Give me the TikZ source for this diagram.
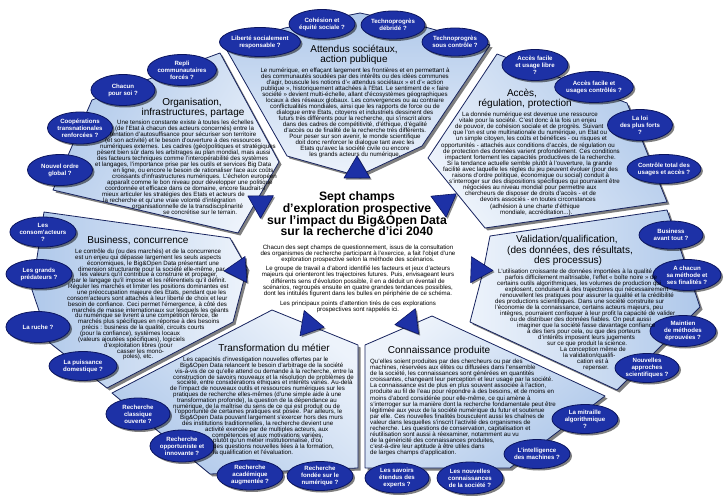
\documentclass[tikz,border=0pt]{standalone}
\usepackage{fontspec}
\setmainfont{Liberation Sans}
\usetikzlibrary{shapes.geometric,shadows}
\definecolor{eblue}{HTML}{1D31A6}
\definecolor{eline}{HTML}{0B1560}
\definecolor{plight}{HTML}{EDF3FB}
\definecolor{pdark}{HTML}{AFC8EA}
\definecolor{pline}{HTML}{18245F}
\newcounter{lnc}
\newcommand\plineL[3]{\stepcounter{lnc}\node[para,anchor=base west] (ln\arabic{lnc}) at (#1,{#2+1.6}) {#3};}
\newcommand\plineC[3]{\stepcounter{lnc}\node[para,anchor=base] (ln\arabic{lnc}) at (#1,{#2+1.6}) {#3};}
\newcommand\bubble[6]{\node[bub,minimum width=#4pt,minimum height=#5pt] (#1) at (#2,#3) {#6};}
\newcommand\arrowtri[4]{\path[tri,shift={(#2,#3)},rotate=#4] (14,0) -- (-8,13) -- (-8,-13) -- cycle; \coordinate (#1) at (#2,#3);}
\begin{document}
\begin{tikzpicture}[x=1pt,y=-1pt,
  para/.style={font=\fontsize{6.15}{7}\selectfont, inner sep=0pt, text=black},
  ttl/.style={font=\fontsize{10}{11}\selectfont, inner sep=0pt, text=black, anchor=base},
  ctl/.style={font=\bfseries\fontsize{12.2}{13}\selectfont, inner sep=0pt, text=black, anchor=base},
  bub/.style={ellipse, fill=eblue, draw=eline, line width=0.8pt, text=white,
    font=\bfseries\fontsize{6.1}{7}\selectfont, align=center, inner sep=0pt,
    drop shadow={opacity=0.5, fill=black, shadow xshift=2pt, shadow yshift=-2pt}},
  panel/.style={draw=pline, line width=0.8pt, line join=round, top color=pdark, bottom color=plight,
    shading angle=#1, drop shadow={opacity=0.5, fill=black, shadow xshift=2.5pt, shadow yshift=-2.5pt}},
  tri/.style={fill=eblue, draw=eline, line width=0.6pt, line join=round,
    drop shadow={opacity=0.45, fill=black, shadow xshift=1.6pt, shadow yshift=-1.6pt}}]
\useasboundingbox (0,0) rectangle (725,502);
\fill[white] (0,0) rectangle (725,502);

% ---------- panels ----------
\path[panel=0] (225,47) -- (285,28) -- (360,13) -- (425,27) -- (490,45) -- (422,146) -- (358,176) -- (287,156) -- cycle;
\path[panel=60] (220,53) -- (92,100) -- (53,190) -- (238,233) -- (279,162) -- cycle;
\path[panel=-54] (497,54) -- (627,103) -- (667,202) -- (485,228) -- (428,158) -- cycle;
\path[panel=-90] (490,236) -- (667,210) -- (700,307) -- (617,390) -- (470,322) -- (483,272) -- cycle;
\path[panel=-142] (365,345) -- (432,316) -- (605,396) -- (510,468) -- (365,468) -- cycle;
\path[panel=140] (112,393) -- (272,310) -- (358,345) -- (358,468) -- (210,474) -- cycle;
\path[panel=90] (44,212) -- (230,238) -- (247,268) -- (233,322) -- (107,388) -- (50,343) -- (32,290) -- cycle;

% ---------- arrows from the centre ----------
\arrowtri{a1}{357}{170}{90}
\arrowtri{a2}{445}{202}{36}
\arrowtri{a3}{479}{270}{-2}
\arrowtri{a4}{410}{323}{-52}
\arrowtri{a5}{309}{325}{-130}
\arrowtri{a6}{238}{270}{-176}
\arrowtri{a7}{260}{203}{150}

% ---------- bubbles ----------
\bubble{b1}{182}{70}{63}{31}{Repli\\communautaires\\forcés ?}
\bubble{b2}{123}{90}{64}{31}{Chacun\\pour soi ?}
\bubble{b3}{80}{128}{65}{32}{Coopérations\\transnationales\\renforcées ?}
\bubble{b4}{60}{170}{65}{31}{Nouvel ordre\\global ?}
\bubble{b5}{260}{42}{67}{29}{Liberté socialement\\responsable ?}
\bubble{b6}{322}{24}{66}{29}{Cohésion et\\équité sociale ?}
\bubble{b7}{393}{25}{64}{28}{Technoprogrès\\débridé ?}
\bubble{b8}{455}{42}{66}{28}{Technoprogrès\\sous contrôle ?}
\bubble{b9}{535}{65}{66}{31}{Accès facile\\et usage libre\\?}
\bubble{b10}{594}{87}{66}{31}{Accès facile et\\usages contrôlés ?}
\bubble{b11}{640}{125}{65}{31}{La loi\\des plus forts\\?}
\bubble{b12}{664}{169}{67}{29}{Contrôle total des\\usages et accès ?}
\bubble{b13}{671}{235}{64}{28}{Business\\avant tout ?}
\bubble{b14}{687}{275}{68}{31}{A chacun\\sa méthode et\\ses finalités ?}
\bubble{b15}{683}{331}{66}{31}{Maintien\\de méthodes\\éprouvées ?}
\bubble{b16}{647}{368}{64}{29}{Nouvelles\\approches\\scientifiques ?}
\bubble{b17}{585}{419}{66}{29}{La mitraille\\algorithmique\\?}
\bubble{b18}{537}{454}{66}{29}{L'intelligence\\des machines ?}
\bubble{b19}{470}{478}{66}{32}{Les nouvelles\\connaissances\\de la société ?}
\bubble{b20}{397}{478}{64}{30}{Les savoirs\\étendus des\\experts ?}
\bubble{b21}{320}{476}{66}{29}{Recherche\\fondée sur le\\numérique ?}
\bubble{b22}{250}{475}{66}{30}{Recherche\\académique\\augmentée ?}
\bubble{b23}{182}{446}{64}{32}{Recherche\\opportuniste et\\innovante ?}
\bubble{b24}{138}{414}{64}{32}{Recherche\\classique\\ouverte ?}
\bubble{b25}{83}{366}{68}{29}{La puissance\\domestique ?}
\bubble{b26}{38}{327}{64}{31}{La ruche ?}
\bubble{b27}{39}{274}{66}{29}{Les grands\\prédateurs ?}
\bubble{b28}{43}{232}{64}{30}{Les\\consom'acteurs\\?}

% ---------- centre ----------
\node[ctl] (c1) at (357,201) {Sept champs};
\node[ctl] (c2) at (357,212.7) {d'exploration prospective};
\node[ctl] (c3) at (357,224.4) {sur l'impact du Big\&Open Data};
\node[ctl] (c4) at (357,236) {sur la recherche d'ici 2040};
\plineC{358}{248.3}{Chacun des sept champs de questionnement, issus de la consultation}
\plineC{358}{254}{des organismes de recherche participant à l'exercice, a fait l'objet d'une}
\plineC{358}{259.5}{exploration prospective selon la méthode des scénarios.}
\plineC{358}{269.3}{Le groupe de travail a d'abord identifié les facteurs et jeux d'acteurs}
\plineC{358}{275.4}{majeurs qui orienteront les trajectoires futures. Puis, envisageant leurs}
\plineC{358}{281.6}{différents sens d'évolution possible, il en a déduit un éventail de}
\plineC{358}{287.8}{scénarios, regroupés ensuite en quatre grandes tendances possibles,}
\plineC{358}{294}{dont les intitulés figurent dans les bulles en périphérie de ce schéma.}
\plineC{358}{304}{Les principaux points d'attention tirés de ces explorations}
\plineC{358}{310}{prospectives sont rappelés ici.}

% ---------- top panel ----------
\node[ttl] (t1a) at (354,52.6) {Attendus sociétaux,};
\node[ttl] (t1b) at (354,62.6) {action publique};
\plineC{355}{71}{Le numérique, en effaçant largement les frontières et en permettant à}
\plineC{355}{77}{des communautés soudées par des intérêts ou des idées communes}
\plineC{355}{83}{d'agir, bouscule les notions d'« attendus sociétaux » et d'« action}
\plineC{355}{89}{publique », historiquement attachées à l'Etat. Le sentiment de « faire}
\plineC{355}{95}{société » devient multi-échelle, allant d'écosystèmes géographiques}
\plineC{355}{101}{locaux à des réseaux globaux. Les convergences ou au contraire}
\plineC{355}{107}{conflictualités mondiales, ainsi que les rapports de force ou de}
\plineC{355}{113}{dialogue entre Etats, citoyens et industriels dessinent des}
\plineC{355}{119}{futurs très différents pour la recherche, qui s'inscrit alors}
\plineC{355}{125}{dans des cadres de compétitivité, d'éthique, d'égalité}
\plineC{355}{131}{d'accès ou de finalité de la recherche très différents.}
\plineC{355}{137}{Pour peser sur son avenir, le monde scientifique}
\plineC{355}{143}{doit donc renforcer le dialogue tant avec les}
\plineC{355}{149}{Etats qu'avec la société civile ou encore}
\plineC{355}{155}{les grands acteurs du numérique.}

% ---------- Organisation ----------
\node[ttl] (t2a) at (192,105.6) {Organisation,};
\node[ttl] (t2b) at (193,115.6) {infrastructures, partage};
\plineL{117}{123}{Une tension constante existe à toutes les échelles}
\plineL{115}{129}{(de l'Etat à chacun des acteurs concernés) entre la}
\plineL{110}{135}{tentation d'autosuffisance pour sécuriser son territoire}
\plineL{105}{141}{(et son activité) et  le besoin d'ouverture à des ressources}
\plineL{100}{147}{numériques externes. Les cadres (géo)politiques et stratégiques}
\plineL{97}{153}{pèsent bien sûr dans les arbitrages au plan mondial, mais aussi}
\plineL{97}{159}{des facteurs techniques comme l'interopérabilité des systèmes}
\plineL{95}{165}{et langages, l'importance prise par les outils et services Big Data}
\plineL{113}{171}{en ligne, ou encore le besoin de rationaliser face aux coûts}
\plineL{112}{177}{croissants d'infrastructures numériques. L'échelon européen}
\plineL{107}{183}{apparaît comme le bon niveau pour développer une politique}
\plineL{105}{189}{coordonnée et efficace dans ce domaine, encore faudrait-il}
\plineL{102}{195}{mieux articuler les stratégies des Etats et acteurs de}
\plineL{103}{201}{la recherche et qu'une vraie volonté d'intégration}
\plineL{132}{207}{organisationnelle de la transdisciplinarité}
\plineL{163}{213}{se concrétise sur le terrain.}

% ---------- Accès ----------
\node[ttl] (t3a) at (522,96.6) {Accès,};
\node[ttl] (t3b) at (525,106.3) {régulation, protection};
\plineL{462}{115}{La donnée numérique est devenue une ressource}
\plineL{459}{121.1}{vitale pour la société. C'est donc à la fois un enjeu}
\plineL{455}{127.2}{de pouvoir, de cohésion sociale et de progrès. Suivant}
\plineL{453}{133.3}{que l'on est une multinationale du numérique, un Etat ou}
\plineL{456}{139.4}{un simple citoyen, les coûts et bénéfices - ou risques et}
\plineL{441}{145.5}{opportunités - attachés aux conditions d'accès, de régulation ou}
\plineL{443}{151.6}{de protection des données varient profondément. Ces conditions}
\plineL{445}{157.7}{impactent fortement les capacités productives de la recherche.}
\plineL{447}{163.8}{Si la tendance actuelle semble plutôt à l'ouverture, la grande}
\plineL{443}{169.9}{facilité avec laquelle les règles du jeu peuvent évoluer (pour des}
\plineL{452}{176}{raisons d'ordre politique, économique ou social) conduit à}
\plineL{449}{182.1}{s'interroger sur des dispositions spécifiques qui pourraient être}
\plineL{463}{188.2}{négociées au niveau mondial pour permettre aux}
\plineL{465}{194.3}{chercheurs de disposer de droits d'accès - et de}
\plineL{480}{200.4}{devoirs associés - en toutes circonstances}
\plineL{490}{206.5}{(adhésion à une charte d'éthique}
\plineL{500}{212.6}{mondiale, accréditation...).}

% ---------- Validation ----------
\node[ttl] (t4a) at (567,242.8) {Validation/qualification,};
\node[ttl] (t4b) at (570,253.5) {(des données, des résultats,};
\node[ttl] (t4c) at (568,263.6) {des processus)};
\plineL{498}{272}{L'utilisation croissante de données importées à la qualité}
\plineL{505}{278}{parfois difficilement maîtrisable, l'effet « boîte noire » de}
\plineL{497}{284}{certains outils algorithmiques, les volumes de production qui}
\plineL{505}{290}{explosent, conduisent à des trajectoires qui nécessairement}
\plineL{500}{296}{renouvellent les pratiques pour assurer la qualité et la crédibilité}
\plineL{495}{302}{des productions scientifiques. Dans une société construite sur}
\plineL{495}{308}{l'économie de la connaissance, certains acteurs majeurs, peu}
\plineL{500}{314}{intègres, pourraient confisquer à leur profit la capacité de valider}
\plineL{510}{320}{ou de distribuer des données fiables. On peut aussi}
\plineL{517}{326}{imaginer que la société fasse davantage confiance}
\plineL{527}{332}{à des tiers pour cela, ou que des porteurs}
\plineL{538}{338}{d'intérêts imposent leurs jugements}
\plineL{547}{344}{sur ce que produit la science.}
\plineL{560}{350}{La conception même de}
\plineL{563}{356}{la validation/qualifi-}
\plineL{577}{362}{cation est à}
\plineL{583}{368}{repenser.}

% ---------- Connaissance ----------
\node[ttl] (t5) at (439,353.6) {Connaissance produite};
\plineL{370}{362}{Qu'elles soient produites par des chercheurs ou par des}
\plineL{370}{368.07}{machines, réservées aux élites ou diffusées dans l'ensemble}
\plineL{370}{374.14}{de la société, les connaissances sont générées en quantités}
\plineL{370}{380.21}{croissantes, changeant leur perception et leur usage par la société.}
\plineL{370}{386.28}{La connaissance est de plus en plus souvent associée à l'action,}
\plineL{370}{392.35}{produite au fil de l'eau pour répondre à des besoins, et de moins en}
\plineL{370}{398.42}{moins d'abord considérée pour elle-même, ce qui amène à}
\plineL{370}{404.49}{s'interroger sur la manière dont la recherche fondamentale peut être}
\plineL{370}{410.56}{légitimée aux yeux de la société numérique du futur et soutenue}
\plineL{370}{416.63}{par elle. Ces nouvelles finalités bousculent aussi les chaînes de}
\plineL{370}{422.7}{valeur dans lesquelles s'inscrit l'activité des organismes de}
\plineL{370}{428.77}{recherche. Les questions de conservation, capitalisation et}
\plineL{370}{434.84}{réutilisation sont aussi à réexaminer, notamment au vu}
\plineL{370}{440.91}{de la généricité des connaissances produites,}
\plineL{370}{446.98}{c'est-à-dire leur aptitude à être utiles dans}
\plineL{370}{453.05}{de larges champs d'application.}

% ---------- Transformation ----------
\node[ttl] (t6) at (274,351.6) {Transformation du métier};
\plineL{183}{360}{Les capacités d'investigation nouvelles offertes par le}
\plineL{180}{365.8}{Big\&Open Data relancent le besoin d'arbitrage de la société}
\plineL{175}{371.6}{vis-à-vis de ce qu'elle attend ou demande à la recherche, entre la}
\plineL{173}{377.4}{construction de savoirs nouveaux et la résolution de problèmes de}
\plineL{177}{383.2}{société, entre considérations éthiques et intérêts variés. Au-delà}
\plineL{170}{389}{de l'impact de nouveaux outils et ressources numériques sur les}
\plineL{173}{394.8}{pratiques de recherche elles-mêmes (d'une simple aide à une}
\plineL{177}{400.6}{transformation profonde), la question de la dépendance au}
\plineL{173}{406.4}{numérique, de la maîtrise du sens de ce qui est produit ou de}
\plineL{175}{412.2}{l'opportunité de certaines pratiques est posée. Par ailleurs, le}
\plineL{180}{418}{Big\&Open Data pouvant largement s'exercer hors des murs}
\plineL{182}{423.8}{des institutions traditionnelles, la recherche devient une}
\plineL{205}{429.6}{activité exercée par de multiples acteurs, aux}
\plineL{212}{435.4}{compétences et aux motivations variées,}
\plineL{213}{441.2}{plutôt qu'un métier institutionnalisé, d'où}
\plineL{213}{447}{des questions nouvelles liées à la formation,}
\plineL{213}{452.8}{la qualification et l'évaluation.}

% ---------- Business ----------
\node[ttl] (t7) at (138,243.6) {Business, concurrence};
\plineL{75}{252}{Le contrôle du (ou des marchés) et de la concurrence}
\plineL{75}{257.85}{est un enjeu qui dépasse largement les seuls aspects}
\plineL{87}{263.7}{économiques, le Big\&Open Data présentant une}
\plineL{78}{269.55}{dimension structurante pour la société elle-même, par}
\plineL{80}{275.4}{les valeurs qu'il contribue à construire et propager,}
\plineL{72}{281.25}{par le langage qu'il impose et les référentiels qu'il définit.}
\plineL{68}{287.1}{Réguler les marchés et limiter les positions dominantes est}
\plineL{77}{292.95}{une préoccupation majeure des Etats, pendant que les}
\plineL{67}{298.8}{consom'acteurs sont attachés à leur liberté de choix et leur}
\plineL{68}{304.65}{besoin de confiance. Ceci permet l'émergence, à côté des}
\plineL{72}{310.5}{marchés de masse internationaux sur lesquels les géants}
\plineL{75}{316.35}{du numérique se livrent à une compétition féroce, de}
\plineL{78}{322.2}{marchés plus spécifiques en réponse à des besoins}
\plineL{82}{328.05}{précis : business de la qualité, circuits courts}
\plineL{80}{333.9}{(pour la confiance), systèmes locaux}
\plineL{78}{339.75}{(valeurs ajoutées spécifiques), logiciels}
\plineL{104}{345.6}{d'exploitation libres (pour}
\plineL{117}{351.45}{casser les mono-}
\plineL{123}{357.3}{poles), etc.}
\end{tikzpicture}
\end{document}
